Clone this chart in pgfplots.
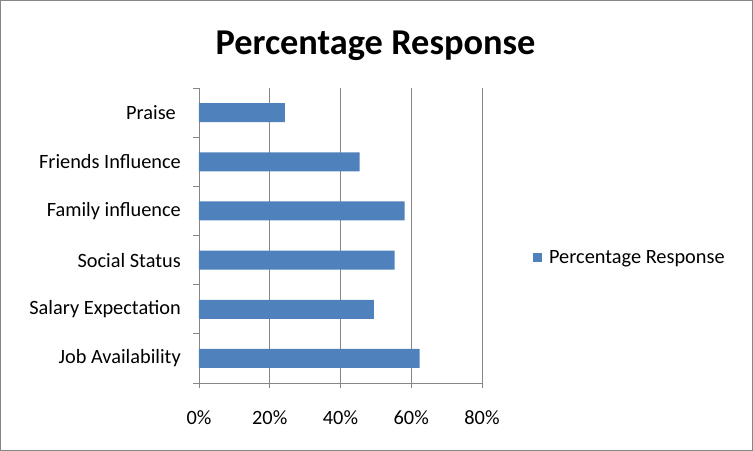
\documentclass[border=0pt]{standalone}
\usepackage{fontspec}
\setmainfont{Carlito}
\usepackage{pgfplots}
\usepackage{pgfplotstable}
\pgfplotsset{compat=1.18}
\definecolor{barblue}{HTML}{4F81BD}
\definecolor{gridgray}{HTML}{868686}
\pgfplotstableread{
idx val
0 62.4
1 49.4
2 55.3
3 58.1
4 45.4
5 24.3
}\datatable
\begin{document}
\begin{tikzpicture}
\useasboundingbox (-199bp,-68bp) rectangle (554bp,383bp);
\draw[gridgray, line width=1.4bp] (-198.3bp,-67.3bp) rectangle (553.3bp,382.3bp);
\begin{axis}[
  at={(0,0)}, anchor=south west,
  width=283bp, height=295bp, scale only axis,
  xmin=0, xmax=80, ymin=-0.5, ymax=5.5,
  xbar, bar width=19bp, bar shift=0pt,
  axis x line*=bottom, axis y line*=left,
  axis line style={gridgray, line width=0.9bp, -},
  tick align=outside,
  xtick={0,20,40,60,80}, xticklabels={0\%,20\%,40\%,60\%,80\%},
  xmajorgrids, major grid style={gridgray, line width=0.9bp},
  major tick length=5bp, minor tick length=6bp,
  tick style={gridgray, line width=0.9bp},
  ytick={0,...,5},
  yticklabels={Job Availability, Salary Expectation, Social Status, Family influence, Friends Influence, {Praise\hspace*{5bp}}},
  minor ytick={-0.5,0.5,1.5,2.5,3.5,4.5,5.5},
  major y tick style={draw=none},
  yticklabel style={font=\fontsize{20.4}{24}\selectfont, inner sep=0pt, anchor=east, xshift=-13bp},
  xticklabel style={font=\fontsize{20.4}{24}\selectfont, inner sep=0pt, anchor=north, yshift=-22bp},
  legend style={at={(1.180,0.424)}, anchor=west, draw=none, fill=none, inner sep=0pt,
    font=\fontsize{20.4}{24}\selectfont, nodes={inner sep=0pt}},
  legend cell align=left,
  legend image code/.code={\fill[barblue] (0bp,-4.5bp) rectangle (9bp,4.5bp);},
]
\addplot[fill=barblue, draw=none] table[x=val, y=idx] {\datatable};
\addlegendentry{\hspace*{7bp}Percentage Response}
\end{axis}
\node[font=\fontsize{36.5}{40}\selectfont\bfseries, anchor=base] at (176.5bp,328bp) {Percentage Response};
\end{tikzpicture}
\end{document}
